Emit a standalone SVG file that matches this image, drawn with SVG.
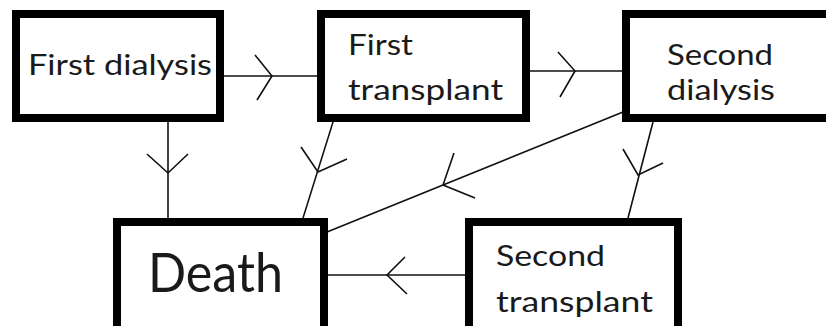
<svg xmlns="http://www.w3.org/2000/svg" width="826" height="326" viewBox="0 0 826 326">
<style>
.box{fill:#fff;stroke:#000;stroke-width:8}
.t{font-family:Lato,"Open Sans","Liberation Sans",sans-serif;font-size:29px;fill:#1a1a1a}
.big{font-size:54px}
.c line,.c polyline{fill:none;stroke:#111;stroke-width:1.6}
</style>
<rect width="826" height="326" fill="#fff"/>
<g class="c" id="connectors">
<line x1="224" y1="76" x2="317" y2="76"/>
<polyline points="255,55 272,76 257,100"/>
<line x1="530" y1="71" x2="622" y2="71"/>
<polyline points="558,52 575,71 560,97"/>
<line x1="168" y1="122" x2="168" y2="218"/>
<polyline points="147,154 168,173 188,154"/>
<line x1="333" y1="122" x2="303" y2="218"/>
<polyline points="301,147 318,172 347,159"/>
<line x1="623" y1="112" x2="327" y2="232"/>
<polyline points="454,153 443,185 475,198"/>
<line x1="653" y1="122" x2="628" y2="218"/>
<polyline points="623,149 638,175 663,163"/>
<line x1="466" y1="275" x2="328" y2="275"/>
<polyline points="405,257 387,275 407,294"/>
</g>
<g id="first-dialysis">
<rect class="box" x="16" y="14" width="204" height="104"/>
<text class="t" x="28" y="75" textLength="184" lengthAdjust="spacingAndGlyphs">First dialysis</text>
</g>
<g id="first-transplant">
<rect class="box" x="321" y="14" width="205" height="104"/>
<text class="t" x="348" y="55" textLength="65" lengthAdjust="spacingAndGlyphs">First</text>
<text class="t" x="348" y="100" textLength="155" lengthAdjust="spacingAndGlyphs">transplant</text>
</g>
<g id="second-dialysis">
<rect class="box" x="626" y="14" width="214" height="104"/>
<text class="t" x="667" y="65" textLength="106" lengthAdjust="spacingAndGlyphs">Second</text>
<text class="t" x="667" y="100" textLength="108" lengthAdjust="spacingAndGlyphs">dialysis</text>
</g>
<g id="death">
<rect class="box" x="117" y="222" width="207" height="112"/>
<text class="t big" x="148" y="292" textLength="135" lengthAdjust="spacingAndGlyphs">Death</text>
</g>
<g id="second-transplant">
<rect class="box" x="469" y="222" width="209" height="112"/>
<text class="t" x="496" y="266" textLength="109" lengthAdjust="spacingAndGlyphs">Second</text>
<text class="t" x="496" y="312" textLength="157" lengthAdjust="spacingAndGlyphs">transplant</text>
</g>
</svg>
